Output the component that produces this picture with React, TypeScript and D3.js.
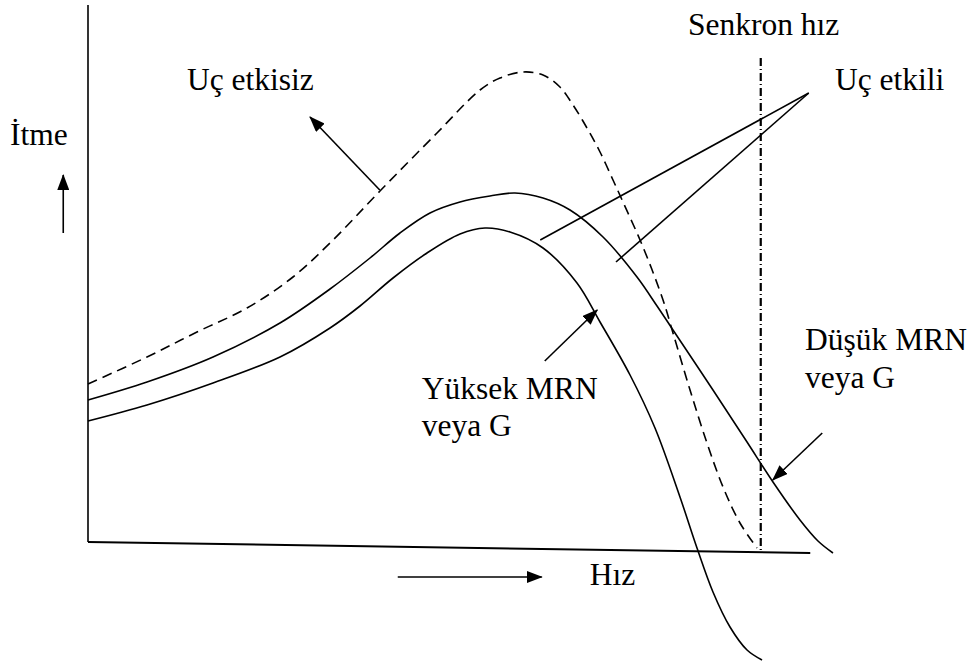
import React from 'react';
import * as d3 from 'd3';

const W = 976;
const H = 666;

// Speed (x, 0..100) and thrust (y, 0..100) in arbitrary units
const speedNoEnd = [0, 7.87, 14.53, 21.2, 27.33, 32.67, 38.93, 46.53, 52.27, 54.93, 58.0, 60.67, 62.93, 64.67, 66.53, 68.27, 70.0, 71.33, 74.0, 76.67, 78.0, 80.27, 82.53, 84.67, 86.93, 89.2];
const thrustNoEnd = [31.6, 37.0, 42.0, 46.8, 53.0, 60.4, 70.2, 81.8, 90.4, 92.8, 94.0, 93.4, 91.0, 87.4, 82.8, 78.0, 72.4, 68.0, 59.0, 48.4, 41.8, 30.4, 19.8, 11.0, 3.8, -1.2];

const speedLowMRN = [0, 7.87, 16.67, 25.6, 32.27, 37.6, 41.6, 45.6, 49.6, 53.6, 56.93, 60.67, 64.27, 68.67, 73.2, 75.87, 78.0, 83.33, 87.87, 91.33, 94.93, 97.33, 99.33];
const thrustLowMRN = [28.4, 32.0, 37.0, 43.8, 50.6, 56.8, 61.8, 65.8, 68.0, 69.2, 69.8, 68.8, 66.4, 61.0, 53.0, 47.2, 42.4, 30.4, 20.0, 12.0, 4.4, 0.2, -2.2];

const speedHighMRN = [0, 7.87, 16.67, 25.6, 32.27, 36.27, 40.67, 45.2, 49.6, 52.93, 56.27, 60.67, 65.2, 68.27, 72.27, 75.6, 78.93, 81.2, 83.33, 85.6, 87.87, 89.87];
const thrustHighMRN = [24.2, 27.4, 31.8, 37.0, 42.8, 47.2, 52.8, 57.8, 61.6, 62.8, 62.0, 58.8, 51.8, 44.0, 33.4, 22.8, 9.0, -1.2, -10.0, -17.0, -21.6, -23.6];

// Synchronous speed marker
const syncSpeed = [89.7, 89.7];
const syncThrust = [96.8, -1.6];

// Axes (speed, thrust)
const yAxisLine = [[0, 0], [0, 107.4]];
const xAxisLine = [[0, 0], [96.3, -2.2]];

// Annotation pointers: [fromSpeed, fromThrust, toSpeed, toThrust]
const arrowNoEnd = [38.9, 70.4, 29.6, 85.0];
const arrowHighMRN = [60.9, 36.2, 67.9, 46.4];
const arrowLowMRN = [97.9, 21.8, 91.3, 12.4];
const linesWithEnd = [
  [96.1, 89.8, 60.3, 60.4],
  [96.1, 89.8, 70.4, 56.0],
];
const arrowThrust = [-3.3, 61.8, -3.3, 73.4];
const arrowSpeed = [41.3, -7.0, 60.5, -7.0];

// Labels: text, speed, thrust (baseline-left)
const labelTexts = ['İtme', 'Uç etkisiz', 'Senkron hız', 'Uç etkili', 'Yüksek MRN', 'veya G', 'Düşük MRN', 'veya G', 'Hız'];
const labelSpeed = [-10.4, 13.2, 80.0, 99.6, 44.5, 44.5, 95.6, 95.6, 66.9];
const labelThrust = [79.4, 90.4, 101.4, 90.4, 28.6, 21.2, 38.4, 30.8, -8.6];

export default function App() {
  const x = d3.scaleLinear().domain([0, 100]).range([88, 838]);
  const y = d3.scaleLinear().domain([0, 100]).range([542, 42]);

  const mk = (xs: number[], ys: number[]) =>
    d3.line<number>()
      .x((_, i) => x(xs[i]))
      .y((_, i) => y(ys[i]))
      .curve(d3.curveCatmullRom.alpha(0.5))(xs);

  const straight = d3.line<number[]>().x((d) => x(d[0])).y((d) => y(d[1]));

  const stroke = '#000';
  const font = "'Liberation Serif', 'Times New Roman', serif";

  const arrow = (a: number[], key: string) => (
    <line key={key} x1={x(a[0])} y1={y(a[1])} x2={x(a[2])} y2={y(a[3])}
      stroke={stroke} strokeWidth={1.6} markerEnd="url(#head)" />
  );

  return (
    <svg width={W} height={H} style={{ position: 'absolute', left: 0, top: 0, background: '#fff' }}>
      <defs>
        <marker id="head" viewBox="0 0 16 12" refX="15" refY="6" markerWidth="16" markerHeight="12"
          markerUnits="userSpaceOnUse" orient="auto">
          <path d="M0,0 L16,6 L0,12 Z" fill="#000" />
        </marker>
      </defs>
      <rect width={W} height={H} fill="#fff" />
      {/* axes */}
      <path d={straight(yAxisLine) || ''} stroke={stroke} strokeWidth={1.6} fill="none" />
      <path d={straight(xAxisLine) || ''} stroke={stroke} strokeWidth={2} fill="none" />

      {/* synchronous speed dash-dot */}
      <line x1={x(syncSpeed[0])} y1={y(syncThrust[0])} x2={x(syncSpeed[1])} y2={y(syncThrust[1])}
        stroke={stroke} strokeWidth={2.2} strokeDasharray="8,3,1,3" />

      {/* curves */}
      <path d={mk(speedNoEnd, thrustNoEnd) || ''} fill="none" stroke={stroke} strokeWidth={1.6} strokeDasharray="10,6" />
      <path d={mk(speedLowMRN, thrustLowMRN) || ''} fill="none" stroke={stroke} strokeWidth={1.6} />
      <path d={mk(speedHighMRN, thrustHighMRN) || ''} fill="none" stroke={stroke} strokeWidth={1.6} />

      {/* annotations */}
      {arrow(arrowNoEnd, 'a1')}
      {arrow(arrowHighMRN, 'a2')}
      {arrow(arrowLowMRN, 'a3')}
      {arrow(arrowThrust, 'a4')}
      {arrow(arrowSpeed, 'a5')}
      {linesWithEnd.map((l, i) => (
        <line key={'l' + i} x1={x(l[0])} y1={y(l[1])} x2={x(l[2])} y2={y(l[3])} stroke={stroke} strokeWidth={1.6} />
      ))}

      {labelTexts.map((t, i) => (
        <text key={'t' + i} x={x(labelSpeed[i])} y={y(labelThrust[i])} fontFamily={font} fontSize={31.5} fill="#000">{t}</text>
      ))}
    </svg>
  );
}
